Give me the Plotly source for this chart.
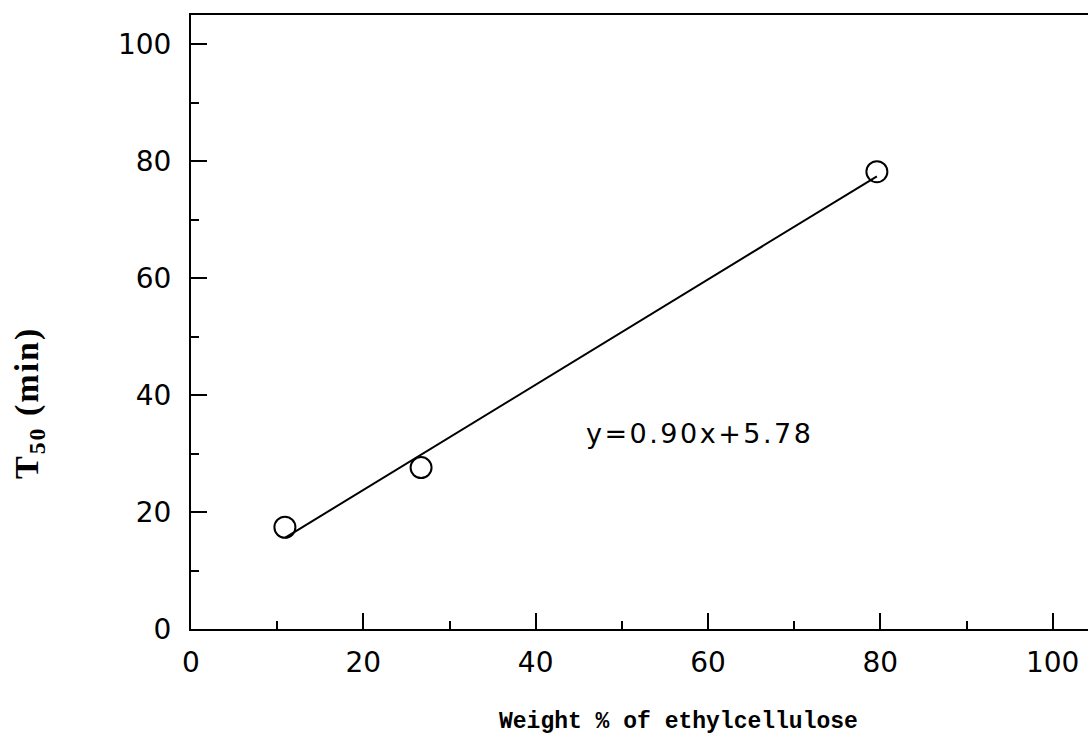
import plotly.graph_objects as go

# Measured points: weight % of ethylcellulose vs. T50
weight_pct = [10.9, 26.7, 79.6]
t50_min = [17.4, 27.6, 78.2]

# Linear fit reported on the chart
slope = 0.90
intercept = 5.78
fit_label = "y=0.90x+5.78"

x_ticks = [0, 20, 40, 60, 80, 100]
y_ticks = [0, 20, 40, 60, 80, 100]

fit_x = [min(weight_pct), max(weight_pct)]
fit_y = [slope * v + intercept for v in fit_x]

W, H = 1088, 752
ML, MR, MT, MB = 191, 0, 15, 123

fig = go.Figure()
fig.add_trace(go.Scatter(
    x=fit_x, y=fit_y, mode="lines",
    line=dict(color="black", width=2), showlegend=False,
))
fig.add_trace(go.Scatter(
    x=weight_pct, y=t50_min, mode="markers",
    marker=dict(symbol="circle-open", size=21, color="black", line=dict(width=2)),
    showlegend=False,
))

tick_font = dict(family="DejaVu Sans, sans-serif", size=28, color="black")

fig.update_xaxes(
    range=[0, 104.1], tickvals=x_ticks, ticktext=[str(v) for v in x_ticks],
    ticks="inside", ticklen=16, tickwidth=2, tickcolor="black",
    minor=dict(ticks="inside", ticklen=8, tickwidth=2, tickcolor="black", dtick=10, tick0=0),
    showline=True, linecolor="black", linewidth=2, mirror=True,
    showgrid=False, zeroline=False, tickfont=tick_font, ticklabelstandoff=7,
)
fig.update_yaxes(
    range=[0, 105], tickvals=y_ticks, ticktext=[str(v) for v in y_ticks],
    ticks="inside", ticklen=16, tickwidth=2, tickcolor="black",
    minor=dict(ticks="inside", ticklen=8, tickwidth=2, tickcolor="black", dtick=10, tick0=0),
    showline=True, linecolor="black", linewidth=2, mirror=False,
    showgrid=False, zeroline=False, tickfont=tick_font, ticklabelstandoff=12,
)

fig.add_annotation(
    x=45.6, y=33.4, xref="x", yref="y",
    text=f'<span style="font-size:27px;letter-spacing:2.5px">{fit_label}</span>',
    showarrow=False, xanchor="left", yanchor="middle",
    font=dict(family="DejaVu Sans, sans-serif", size=27, color="black"),
)

pw, ph = W - ML - MR, H - MT - MB


def px_to_paper(px, py):
    return (px - ML) / pw, (H - MB - py) / ph


tx, ty = px_to_paper(678, 722)
fig.add_annotation(
    x=tx, y=ty, xref="paper", yref="paper", text="<b>Weight % of ethylcellulose</b>",
    showarrow=False, xanchor="center", yanchor="middle",
    font=dict(family="Liberation Mono, Courier New, monospace", size=23, color="black"),
)
tx, ty = px_to_paper(29, 403)
fig.add_annotation(
    x=tx, y=ty, xref="paper", yref="paper",
    text='<b><span style="letter-spacing:2px">T<sub>50</sub> (min)</span></b>',
    showarrow=False, textangle=-90,
    xanchor="center", yanchor="middle",
    font=dict(family="Liberation Serif, Times New Roman, serif", size=34, color="black"),
)

fig.update_layout(
    width=W, height=H,
    margin=dict(l=ML, r=MR, t=MT, b=MB),
    paper_bgcolor="white", plot_bgcolor="white",
)

fig.write_html("out.html")
